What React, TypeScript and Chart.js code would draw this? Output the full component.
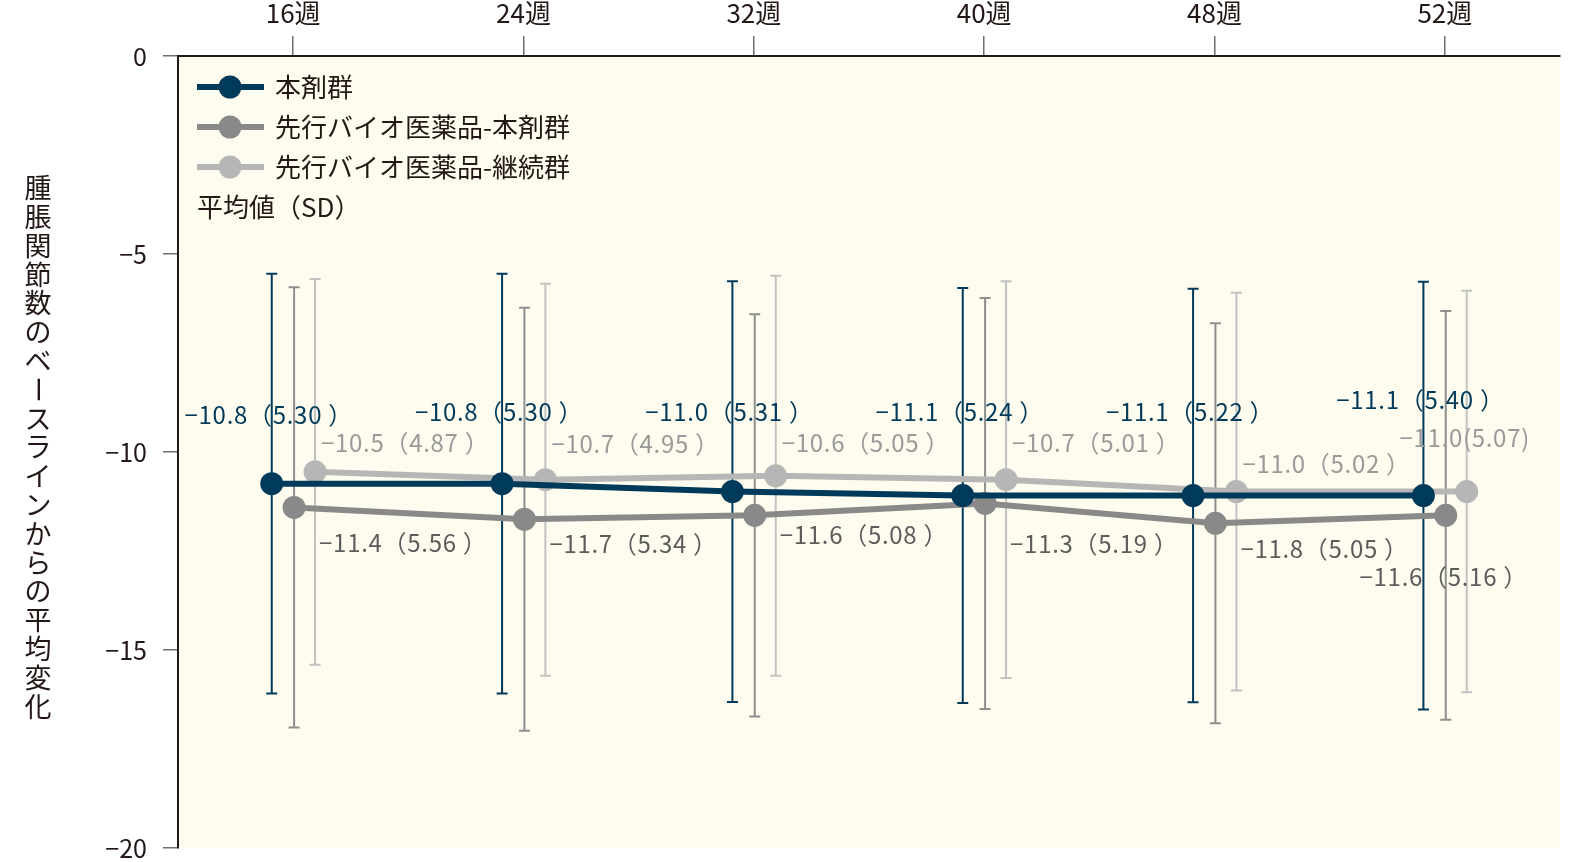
import React, { useEffect, useRef } from "react";
import { Chart, registerables } from "chart.js";

Chart.register(...registerables);

const weeks = ["16週", "24週", "32週", "40週", "48週", "52週"];

const mainMean = [-10.8, -10.8, -11.0, -11.1, -11.1, -11.1];
const mainSd = [5.3, 5.3, 5.31, 5.24, 5.22, 5.4];
const switchMean = [-11.4, -11.7, -11.6, -11.3, -11.8, -11.6];
const switchSd = [5.56, 5.34, 5.08, 5.19, 5.05, 5.16];
const contMean = [-10.5, -10.7, -10.6, -10.7, -11.0, -11.0];
const contSd = [4.87, 4.95, 5.05, 5.01, 5.02, 5.07];

const yTicks = [0, -5, -10, -15, -20];
const legendLabels = ["本剤群", "先行バイオ医薬品-本剤群", "先行バイオ医薬品-継続群"];
const yTitle = "腫脹関節数のベースラインからの平均変化";

const FONT = "'Noto Sans CJK JP', 'Noto Sans', sans-serif";
const NAVY = "#003a5b";
const GRAY = "#898989";
const LIGHT = "#b6b6b6";
const INK = "#231815";

// label placement (pixel offsets from each point)
const mainLabelDy = [-69, -72, -80, -84, -84, -96];
const switchLabelDy = [35, 25, 20, 40, 26, 62];
const contLabelDy = [-29, -36, -33, -37, -28, -54];

const num = (v: number, d: number) => v.toFixed(d).replace("-", "−");
const fmt = (m: number, sd: number) => `${num(m, 1)}（${sd.toFixed(2)} ）`;

const bgPlugin = {
  id: "bg",
  beforeDraw(chart: any) {
    const { ctx, chartArea: a } = chart;
    ctx.save();
    ctx.fillStyle = "#fefcee";
    ctx.fillRect(a.left, a.top, a.right - a.left, a.bottom - a.top);
    ctx.restore();
  },
};

const errorBarPlugin = {
  id: "errorBars",
  beforeDatasetsDraw(chart: any) {
    const { ctx } = chart;
    const y = chart.scales.y;
    chart.data.datasets.forEach((ds: any, di: number) => {
      const meta = chart.getDatasetMeta(di);
      ctx.save();
      ctx.strokeStyle = ds.barColor;
      ctx.lineWidth = 2;
      meta.data.forEach((pt: any, i: number) => {
        const m = ds.data[i].y;
        const sd = ds.sd[i];
        const top = y.getPixelForValue(m + sd);
        const bot = y.getPixelForValue(m - sd);
        ctx.beginPath();
        ctx.moveTo(pt.x, top);
        ctx.lineTo(pt.x, bot);
        ctx.moveTo(pt.x - 5.5, top);
        ctx.lineTo(pt.x + 5.5, top);
        ctx.moveTo(pt.x - 5.5, bot);
        ctx.lineTo(pt.x + 5.5, bot);
        ctx.stroke();
      });
      ctx.restore();
    });
  },
};

const labelPlugin = {
  id: "valueLabels",
  afterDatasetsDraw(chart: any) {
    const { ctx } = chart;
    ctx.save();
    ctx.font = `24px ${FONT}`;
    (ctx as any).letterSpacing = "0.7px";
    ctx.textBaseline = "middle";
    chart.data.datasets.forEach((ds: any, di: number) => {
      const meta = chart.getDatasetMeta(di);
      ctx.fillStyle = ds.labelColor;
      meta.data.forEach((pt: any, i: number) => {
        const last = i === meta.data.length - 1;
        const m = ds.data[i].y;
        const sd = ds.sd[i];
        let text = fmt(m, sd);
        let align = ds.labelAlign;
        let dx = ds.labelDx;
        if (last && ds.lastCenter) {
          align = "center";
          dx = -2;
          if (ds.compactLast) text = `${num(m, 1)}(${sd.toFixed(2)})`;
        }
        ctx.textAlign = align;
        ctx.fillText(text, pt.x + dx, pt.y + ds.labelDy[i]);
      });
    });
    ctx.restore();
  },
};

const legendPlugin = {
  id: "customLegend",
  afterDraw(chart: any) {
    const { ctx } = chart;
    const colors = [NAVY, GRAY, LIGHT];
    ctx.save();
    ctx.font = `26px ${FONT}`;
    ctx.textBaseline = "middle";
    ctx.textAlign = "left";
    legendLabels.forEach((lab, i) => {
      const yy = 87 + i * 40;
      ctx.strokeStyle = colors[i];
      ctx.lineWidth = 6;
      ctx.beginPath();
      ctx.moveTo(197, yy);
      ctx.lineTo(264, yy);
      ctx.stroke();
      ctx.fillStyle = colors[i];
      ctx.beginPath();
      ctx.arc(230, yy, 11.5, 0, Math.PI * 2);
      ctx.fill();
      ctx.fillStyle = INK;
      ctx.fillText(lab, 275, yy);
    });
    ctx.fillText("平均値（SD）", 197, 207);
    ctx.restore();
  },
};

const yTitlePlugin = {
  id: "yTitle",
  afterDraw(chart: any) {
    const { ctx } = chart;
    ctx.save();
    ctx.font = `27px ${FONT}`;
    ctx.fillStyle = INK;
    ctx.textAlign = "center";
    ctx.textBaseline = "middle";
    const chars = Array.from(yTitle);
    chars.forEach((c, i) => {
      const cy = 188 + i * 28.8;
      if (c === "ー") {
        ctx.save();
        ctx.translate(38, cy);
        ctx.rotate(Math.PI / 2);
        ctx.fillText(c, 0, 0);
        ctx.restore();
      } else {
        ctx.fillText(c, 38, cy);
      }
    });
    ctx.restore();
  },
};

const App: React.FC = () => {
  const canvasRef = useRef<HTMLCanvasElement>(null);
  const chartRef = useRef<Chart>();

  useEffect(() => {
    document.body.style.margin = "0";
    document.body.style.overflow = "hidden";
    if (!canvasRef.current) return;
    if (chartRef.current) chartRef.current.destroy();

    const toPts = (arr: number[], off: number) => arr.map((v, i) => ({ x: i + off, y: v }));

    chartRef.current = new Chart(canvasRef.current, {
      type: "line",
      data: {
        datasets: [
          {
            label: legendLabels[0],
            data: toPts(mainMean, -0.093),
            borderColor: NAVY,
            backgroundColor: NAVY,
            borderWidth: 6,
            pointRadius: 11.5,
            pointBorderWidth: 0,
            sd: mainSd,
            barColor: NAVY,
            labelColor: NAVY,
            labelAlign: "center",
            labelDx: -3,
            labelDy: mainLabelDy,
          },
          {
            label: legendLabels[1],
            data: toPts(switchMean, 0.004),
            borderColor: GRAY,
            backgroundColor: GRAY,
            borderWidth: 6,
            pointRadius: 11.5,
            pointBorderWidth: 0,
            sd: switchSd,
            barColor: "#8e8e8e",
            labelColor: "#5c5c5c",
            labelAlign: "left",
            labelDx: 25,
            labelDy: switchLabelDy,
            lastCenter: true,
          },
          {
            label: legendLabels[2],
            data: toPts(contMean, 0.095),
            borderColor: LIGHT,
            backgroundColor: LIGHT,
            borderWidth: 6,
            pointRadius: 11.5,
            pointBorderWidth: 0,
            sd: contSd,
            barColor: "#c2c2c2",
            labelColor: "#999999",
            labelAlign: "left",
            labelDx: 6,
            labelDy: contLabelDy,
            lastCenter: true,
            compactLast: true,
          },
        ] as any,
      },
      options: {
        animation: false,
        responsive: false,
        maintainAspectRatio: false,
        layout: { padding: { left: 0, right: 24, top: 0, bottom: 14 } },
        plugins: {
          legend: { display: false },
          tooltip: { enabled: false },
        },
        scales: {
          x: {
            type: "linear",
            position: "top",
            min: -0.5,
            max: 5.5,
            afterBuildTicks: (scale: any) => {
              scale.ticks = weeks.map((_, i) => ({ value: i }));
            },
            afterFit: (scale: any) => {
              scale.height = 56;
              scale.paddingLeft = 0;
              scale.paddingRight = 0;
            },
            ticks: {
              callback: (v: any) => weeks[Math.round(Number(v))] ?? "",
              font: { family: FONT, size: 26 },
              color: INK,
              padding: 7,
              maxRotation: 0,
            },
            grid: {
              drawOnChartArea: false,
              drawTicks: true,
              tickLength: 20,
              tickColor: "#6f6f6f",
              lineWidth: 1.5,
            },
            border: { color: INK, width: 2 },
          },
          y: {
            type: "linear",
            min: -20,
            max: 0,
            afterBuildTicks: (scale: any) => {
              scale.ticks = yTicks.map((v) => ({ value: v }));
            },
            afterFit: (scale: any) => {
              scale.width = 178;
              scale.paddingTop = 0;
              scale.paddingBottom = 0;
            },
            ticks: {
              callback: (v: any) => String(v).replace("-", "−"),
              font: { family: FONT, size: 25 },
              color: INK,
              padding: 16,
            },
            grid: {
              drawOnChartArea: false,
              drawTicks: true,
              tickLength: 15,
              tickColor: "#6f6f6f",
              lineWidth: 1.5,
            },
            border: { color: INK, width: 2 },
          },
        },
      },
      plugins: [bgPlugin, errorBarPlugin, labelPlugin, legendPlugin, yTitlePlugin],
    });

    return () => {
      if (chartRef.current) {
        chartRef.current.destroy();
        chartRef.current = undefined;
      }
    };
  }, []);

  return (
    <div
      style={{
        position: "absolute",
        left: 0,
        top: 0,
        width: "1584px",
        height: "862px",
        overflow: "hidden",
        background: "#ffffff",
      }}
    >
      <canvas
        ref={canvasRef}
        width={1584}
        height={862}
        style={{ display: "block", width: "1584px", height: "862px" }}
      />
    </div>
  );
};

export default App;
